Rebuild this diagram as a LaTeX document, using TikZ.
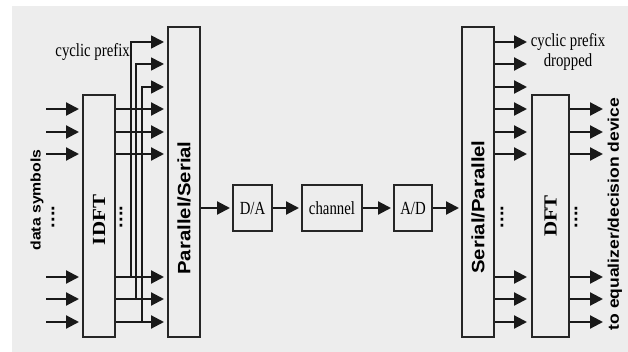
\documentclass[tikz,border=0pt]{standalone}
\usepackage{fontspec}
\setmainfont{Liberation Serif}
\newfontfamily\hv{Liberation Sans}
\usetikzlibrary{arrows.meta}
\newcommand{\sq}[1]{\scalebox{0.8}[1]{#1}}
\newcommand{\sqr}[1]{\scalebox{1}[0.88]{#1}}
\begin{document}
\begin{tikzpicture}[x=1pt,y=-1pt,
  box/.style={draw=black!85, line width=2pt, inner sep=0pt},
  arr/.style={-{Triangle[length=13pt,width=13pt]}, line width=2.2pt, draw=black!90},
  lbl/.style={inner sep=0pt, font=\fontsize{18.5}{20}\selectfont},
  vlbl/.style={inner sep=0pt, rotate=90},
  sanslbl/.style={vlbl, font=\hv\bfseries\fontsize{#1}{#1}\selectfont},
  seriflbl/.style={vlbl, font=\bfseries\fontsize{21}{21}\selectfont},
]
\useasboundingbox (0,0) rectangle (628,352);
\fill[black!7] (12,6) rectangle (628,352);

% boxes
\node[box, minimum width=32, minimum height=242] (idft) at (99,216) {};
\node[box, minimum width=32, minimum height=310] (ps) at (184,182) {};
\node[box, minimum width=39, minimum height=46, lbl] (da) at (252.5,208) {\sq{D/A}};
\node[box, minimum width=60, minimum height=46, lbl] (ch) at (332,208) {\sq{channel}};
\node[box, minimum width=38, minimum height=46, lbl] (ad) at (413,208) {\sq{A/D}};
\node[box, minimum width=32, minimum height=310] (sp) at (478,182) {};
\node[box, minimum width=37, minimum height=242] (dft) at (550.5,216) {};

% labels
\node[seriflbl] (tidft) at (99,220) {\sqr{IDFT}};
\node[seriflbl] (tdft) at (550.5,216) {\sqr{DFT}};
\node[sanslbl=20.3] (tps) at (184,208) {\sqr{Parallel/Serial}};
\node[sanslbl=20.3] (tsp) at (478,207) {\sqr{Serial/Parallel}};
\node[sanslbl=15.8] (tdata) at (37,200) {\sqr{data symbols}};
\node[sanslbl=17.5] (teq) at (615,214) {\sqr{to equalizer/decision device}};
\node[sanslbl=20] (d1) at (53,217) {\sqr{....}};
\node[sanslbl=20] (d2) at (121,217) {\sqr{....}};
\node[sanslbl=20] (d3) at (502,217) {\sqr{....}};
\node[sanslbl=20] (d4) at (576,217) {\sqr{....}};
\node[lbl, anchor=east] (cpl) at (130,52) {\sq{cyclic prefix}};
\node[lbl, align=center] (cpr) at (568,52) {\sq{cyclic prefix}\\\sq{dropped}};

% transmitter inputs and IDFT outputs
\foreach \y [count=\i] in {109,132,154,277,299,322} {
  \coordinate (in\i) at (46,\y);
  \draw[arr, shorten >=3pt] (in\i) -- (idft.west |- in\i);
  \draw[arr, shorten >=3pt] (idft.east |- in\i) -- (ps.west |- in\i);
}
% cyclic prefix copies
\coordinate (j1) at (131,277);
\coordinate (j2) at (136,299);
\coordinate (j3) at (142,322);
\coordinate (c1) at (131,42);
\coordinate (c2) at (136,64);
\coordinate (c3) at (142,87);
\foreach \i in {1,2,3} {
  \draw[arr, line width=1.6pt, shorten >=3pt] (j\i) -- (c\i) -- (ps.west |- c\i);
}

% main chain
\draw[arr, shorten >=2pt] (ps.east |- da.west) -- (da.west);
\draw[arr, shorten >=2pt] (da.east) -- (ch.west);
\draw[arr, shorten >=2pt] (ch.east) -- (ad.west);
\draw[arr, shorten >=2pt] (ad.east) -- (sp.west |- ad.east);

% receiver
\foreach \y [count=\i] in {42,64,87} {
  \coordinate (r\i) at (527,\y);
  \draw[arr] (sp.east |- r\i) -- (r\i);
}
\foreach \y [count=\i] in {109,132,154,277,299,322} {
  \coordinate (o\i) at (603,\y);
  \draw[arr, shorten >=4pt] (sp.east |- o\i) -- (dft.west |- o\i);
  \draw[arr] (dft.east |- o\i) -- (o\i);
}
\end{tikzpicture}
\end{document}
